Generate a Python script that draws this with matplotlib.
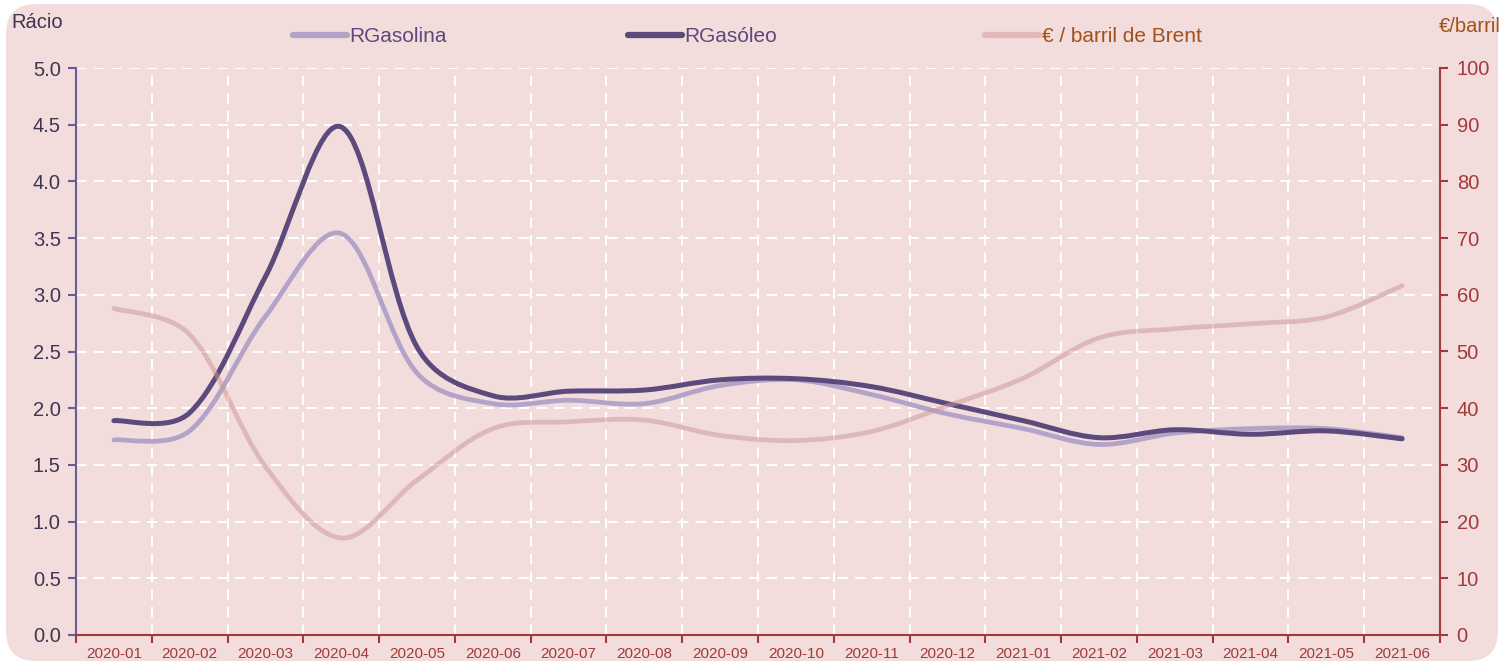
import matplotlib
matplotlib.use("Agg")
import matplotlib.pyplot as plt
from matplotlib.path import Path
from matplotlib.patches import PathPatch, FancyBboxPatch
from matplotlib.lines import Line2D
import numpy as np

plt.rcParams['font.family'] = ['Liberation Sans', 'DejaVu Sans']

# dados
meses = ["2020-01", "2020-02", "2020-03", "2020-04", "2020-05", "2020-06",
         "2020-07", "2020-08", "2020-09", "2020-10", "2020-11", "2020-12",
         "2021-01", "2021-02", "2021-03", "2021-04", "2021-05", "2021-06"]
r_gasolina = [1.72, 1.80, 2.81, 3.54, 2.31, 2.04, 2.07, 2.04, 2.20, 2.25, 2.12, 1.95,
              1.82, 1.68, 1.78, 1.82, 1.82, 1.74]
r_gasoleo = [1.89, 1.96, 3.16, 4.48, 2.54, 2.11, 2.15, 2.16, 2.25, 2.26, 2.19, 2.04,
             1.89, 1.74, 1.81, 1.77, 1.80, 1.73]
brent = [57.6, 53.0, 29.7, 17.1, 27.3, 36.4, 37.6, 37.9, 35.2, 34.3, 35.9, 40.4,
         45.3, 52.4, 54.0, 54.9, 56.1, 61.6]

BG = '#f2dcdc'
C_GASOLINA = '#b3a3c9'
C_GASOLEO = '#5c4a7d'
C_BRENT = '#cc9494'
C_RED = '#a33a3a'
C_DARK = '#3c3650'
C_BROWN = '#a0521a'


def smooth_path(axis, xs, ys, t=1 / 6, k=0.5):
    # curva suavizada (tipo Excel): bezier cúbica, tangentes levemente pesadas pelas cordas
    tr = axis.transData
    p = tr.transform(np.column_stack([xs, ys]).astype(float))
    n = len(p)
    d = np.hypot(*np.diff(p, axis=0).T)
    verts = [p[0]]
    codes = [Path.MOVETO]
    for i in range(n - 1):
        if i > 0:
            w = (2 * d[i] / (d[i - 1] + d[i])) ** k
            c1 = p[i] + (p[i + 1] - p[i - 1]) * t * w
        else:
            c1 = p[i] + (p[i + 1] - p[i]) * t
        if i + 2 < n:
            w = (2 * d[i] / (d[i] + d[i + 1])) ** k
            c2 = p[i + 1] - (p[i + 2] - p[i]) * t * w
        else:
            c2 = p[i + 1] - (p[i + 1] - p[i]) * t
        verts += [c1, c2, p[i + 1]]
        codes += [Path.CURVE4] * 3
    return Path(tr.inverted().transform(np.array(verts)), codes)


fig = plt.figure(figsize=(15.04, 6.65), dpi=100, facecolor='white')
fig.patches.append(FancyBboxPatch((0.004, 0.006), 0.992, 0.988,
                                  boxstyle="round,pad=0,rounding_size=0.02",
                                  transform=fig.transFigure, facecolor=BG,
                                  edgecolor='none', zorder=-10,
                                  mutation_aspect=1504 / 665))

ax = fig.add_axes([76 / 1504, 1 - 635 / 665, (1440 - 76) / 1504, (635 - 68) / 665])
ax.set_facecolor('none')
x = np.arange(len(meses))
ax.set_xlim(-0.5, len(meses) - 0.5)
ax.set_ylim(0, 5)

ax.add_patch(PathPatch(smooth_path(ax, x, r_gasolina), facecolor='none', edgecolor=C_GASOLINA,
                       lw=3.4, capstyle='round', joinstyle='round', zorder=3))
ax.add_patch(PathPatch(smooth_path(ax, x, r_gasoleo), facecolor='none', edgecolor=C_GASOLEO,
                       lw=3.6, capstyle='round', joinstyle='round', zorder=4))

ax.set_yticks(np.arange(0, 5.01, 0.5))
ax.set_yticklabels([f"{v:.1f}" for v in np.arange(0, 5.01, 0.5)])
ax.set_xticks(np.arange(-0.5, len(meses), 1))
ax.set_xticklabels([])
ax.set_xticks(x, minor=True)
ax.set_xticklabels(meses, minor=True)
ax.tick_params(axis='x', which='major', direction='out', length=6, width=1.5, color=C_RED)
ax.tick_params(axis='x', which='minor', length=0, pad=9, labelsize=11, labelcolor=C_RED)
ax.tick_params(axis='y', direction='out', length=6, width=1.5, color='#6a5a9a',
               labelsize=14.5, labelcolor=C_DARK, pad=5)

ax.grid(True, which='major', color='white', linestyle=(0, (5, 3.5)), linewidth=1.5)
ax.set_axisbelow(True)
for s in ['top', 'right']:
    ax.spines[s].set_visible(False)
ax.spines['left'].set_color('#6a5a9a')
ax.spines['left'].set_linewidth(1.5)
ax.spines['bottom'].set_color(C_RED)
ax.spines['bottom'].set_linewidth(1.5)

ax2 = ax.twinx()
ax2.set_ylim(0, 100)
ax2.add_patch(PathPatch(smooth_path(ax2, x, brent), facecolor='none', edgecolor=C_BRENT,
                        lw=3.4, alpha=0.5, capstyle='round', joinstyle='round'))
ax2.set_yticks(np.arange(0, 101, 10))
ax2.tick_params(axis='y', direction='out', length=6, width=1.5, color=C_RED,
                labelsize=14.5, labelcolor=C_RED, pad=6)
for s in ['top', 'left', 'bottom']:
    ax2.spines[s].set_visible(False)
ax2.spines['right'].set_color(C_RED)
ax2.spines['right'].set_linewidth(1.5)

fig.text(11 / 1504, 1 - 22 / 665, "Rácio", fontsize=14.5, color=C_DARK, va='center', ha='left')
fig.text(1501 / 1504, 1 - 27 / 665, "€/barril", fontsize=14.5, color=C_BROWN, va='center', ha='right')

# legenda: uma entrada de cada vez, nas posições do original
legenda = [("RGasolina", C_GASOLINA, C_GASOLEO, 293),
           ("RGasóleo", C_GASOLEO, C_GASOLEO, 628),
           ("€ / barril de Brent", '#e0b8b8', C_BROWN, 985)]
for nome, cor, cor_txt, x0 in legenda:
    h = Line2D([], [], color=cor, lw=4.5, solid_capstyle='round')
    fig.legend([h], [nome], loc='center left', bbox_to_anchor=(x0 / 1504, 1 - 37 / 665),
               frameon=False, fontsize=15, handlelength=2.6, handletextpad=0.12,
               borderpad=0, borderaxespad=0, labelcolor=cor_txt)

fig.savefig("out.png", dpi=100, facecolor=fig.get_facecolor())
